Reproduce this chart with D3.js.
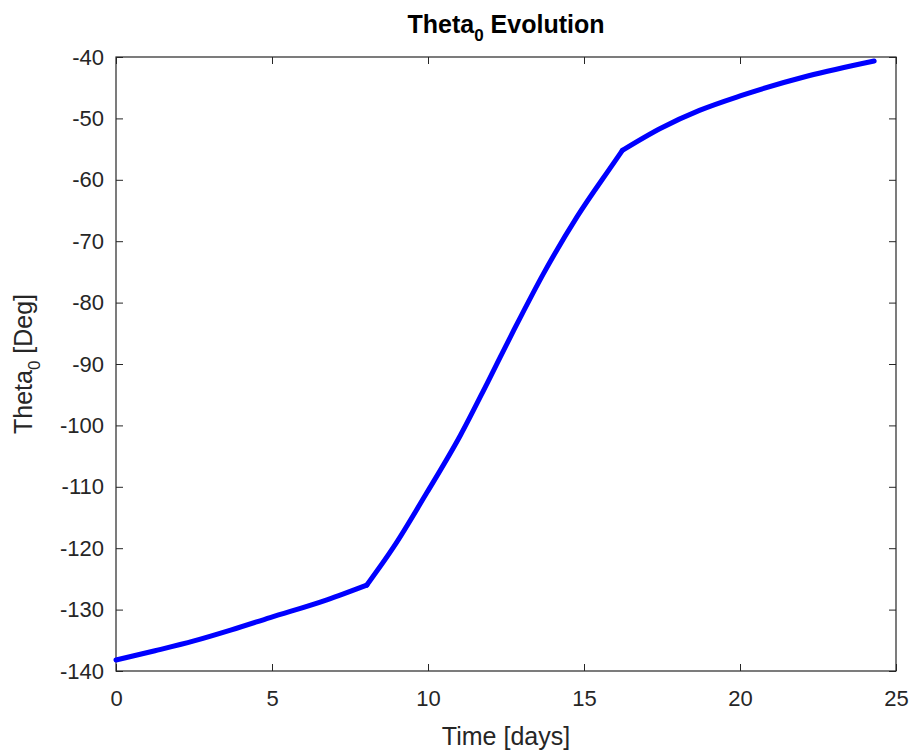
<!DOCTYPE html>
<html>
<head>
<meta charset="utf-8">
<script src="https://cdn.jsdelivr.net/npm/d3@7"></script>
<style>
  body { margin: 0; background: #fff; }
  svg { font-family: "Liberation Sans", Arial, sans-serif; }
</style>
</head>
<body>
<div class="chartContainer"></div>
<script>
// Data
var days = [0, 1.25, 2.5, 3.7, 4.94, 6.76, 8.04, 8.9, 9.97, 11.04, 11.9, 12.75, 13.71, 14.78, 15.96, 16.23, 17.46, 18.7, 20.03, 22.17, 24.3];
var theta = [-138.2, -136.7, -135.1, -133.3, -131.3, -128.4, -126.0, -119.8, -110.9, -101.6, -93.1, -84.5, -75.2, -66.0, -57.2, -55.2, -51.6, -48.7, -46.3, -43.1, -40.65];
// days where the curve changes phase (sharp corners)
var phaseBreaks = [8.04, 16.23];
var xTicks = [0, 5, 10, 15, 20, 25];
var yTicks = [-140, -130, -120, -110, -100, -90, -80, -70, -60, -50, -40];

var lineColor = "#0000ff";
var axisColor = "#262626";

var width = 912, height = 752;
var plotLeft = 116, plotRight = 896, plotTop = 57, plotBottom = 671;

var svg = d3.select(".chartContainer").append("svg")
    .attr("width", width)
    .attr("height", height);

var x = d3.scaleLinear().domain([0, 25]).range([plotLeft, plotRight]);
var y = d3.scaleLinear().domain([-140, -40]).range([plotBottom, plotTop]);

var plainFormat = (d) => String(d);

// axes, ticks inward like matlab
svg.append("g")
    .attr("transform", "translate(0," + plotBottom + ")")
    .call(d3.axisBottom(x).tickValues(xTicks).tickFormat(plainFormat).tickSizeInner(-7).tickSizeOuter(0).tickPadding(19));
svg.append("g")
    .attr("transform", "translate(0," + plotTop + ")")
    .call(d3.axisTop(x).tickValues(xTicks).tickSizeInner(-7).tickSizeOuter(0).tickFormat(""));
svg.append("g")
    .attr("transform", "translate(" + plotLeft + ",0)")
    .call(d3.axisLeft(y).tickValues(yTicks).tickFormat(plainFormat).tickSizeInner(-7).tickSizeOuter(0).tickPadding(12));
svg.append("g")
    .attr("transform", "translate(" + plotRight + ",0)")
    .call(d3.axisRight(y).tickValues(yTicks).tickSizeInner(-7).tickSizeOuter(0).tickFormat(""));

svg.selectAll(".domain").remove();
svg.selectAll(".tick line").attr("stroke", axisColor).attr("stroke-width", 1);
svg.selectAll(".tick text")
    .attr("fill", axisColor)
    .attr("font-size", "22px")
    .attr("font-family", "Liberation Sans, Arial, sans-serif");

// box
svg.append("rect")
    .attr("x", plotLeft)
    .attr("y", plotTop)
    .attr("width", plotRight - plotLeft)
    .attr("height", plotBottom - plotTop)
    .attr("fill", "none")
    .attr("stroke", axisColor)
    .attr("stroke-width", 1.2);

// split the points into phases, each drawn smooth, corners kept sharp
var points = days.map((d, i) => ({ t: d, v: theta[i] }));
var edges = [0].concat(phaseBreaks).concat([Infinity]);
var segments = [];
for (var s = 0; s < edges.length - 1; s++) {
    segments.push(points.filter((p) => p.t >= edges[s] && p.t <= edges[s + 1]));
}

var line = d3.line()
    .curve(d3.curveMonotoneX)
    .x((d) => x(d.t))
    .y((d) => y(d.v));

svg.selectAll(".seg").data(segments).enter().append("path")
    .attr("class", "seg")
    .attr("d", line)
    .attr("fill", "none")
    .attr("stroke", lineColor)
    .attr("stroke-width", 5)
    .attr("stroke-linejoin", "round")
    .attr("stroke-linecap", "round");

// title
var title = svg.append("text")
    .attr("x", (plotLeft + plotRight) / 2)
    .attr("y", 33)
    .attr("text-anchor", "middle")
    .attr("font-size", "25px")
    .attr("font-weight", "bold")
    .attr("fill", "#000");
title.append("tspan").text("Theta");
title.append("tspan").attr("font-size", "17px").attr("dy", 8).text("0");
title.append("tspan").attr("dy", -8).text(" Evolution");

// x label
svg.append("text")
    .attr("x", (plotLeft + plotRight) / 2)
    .attr("y", 745)
    .attr("text-anchor", "middle")
    .attr("font-size", "25px")
    .attr("fill", axisColor)
    .text("Time [days]");

// y label
var ylab = svg.append("text")
    .attr("transform", "translate(32," + ((plotTop + plotBottom) / 2) + ") rotate(-90)")
    .attr("text-anchor", "middle")
    .attr("font-size", "25px")
    .attr("fill", axisColor);
ylab.append("tspan").text("Theta");
ylab.append("tspan").attr("font-size", "17px").attr("dy", 8).text("0");
ylab.append("tspan").attr("dy", -8).text(" [Deg]");
</script>
</body>
</html>
